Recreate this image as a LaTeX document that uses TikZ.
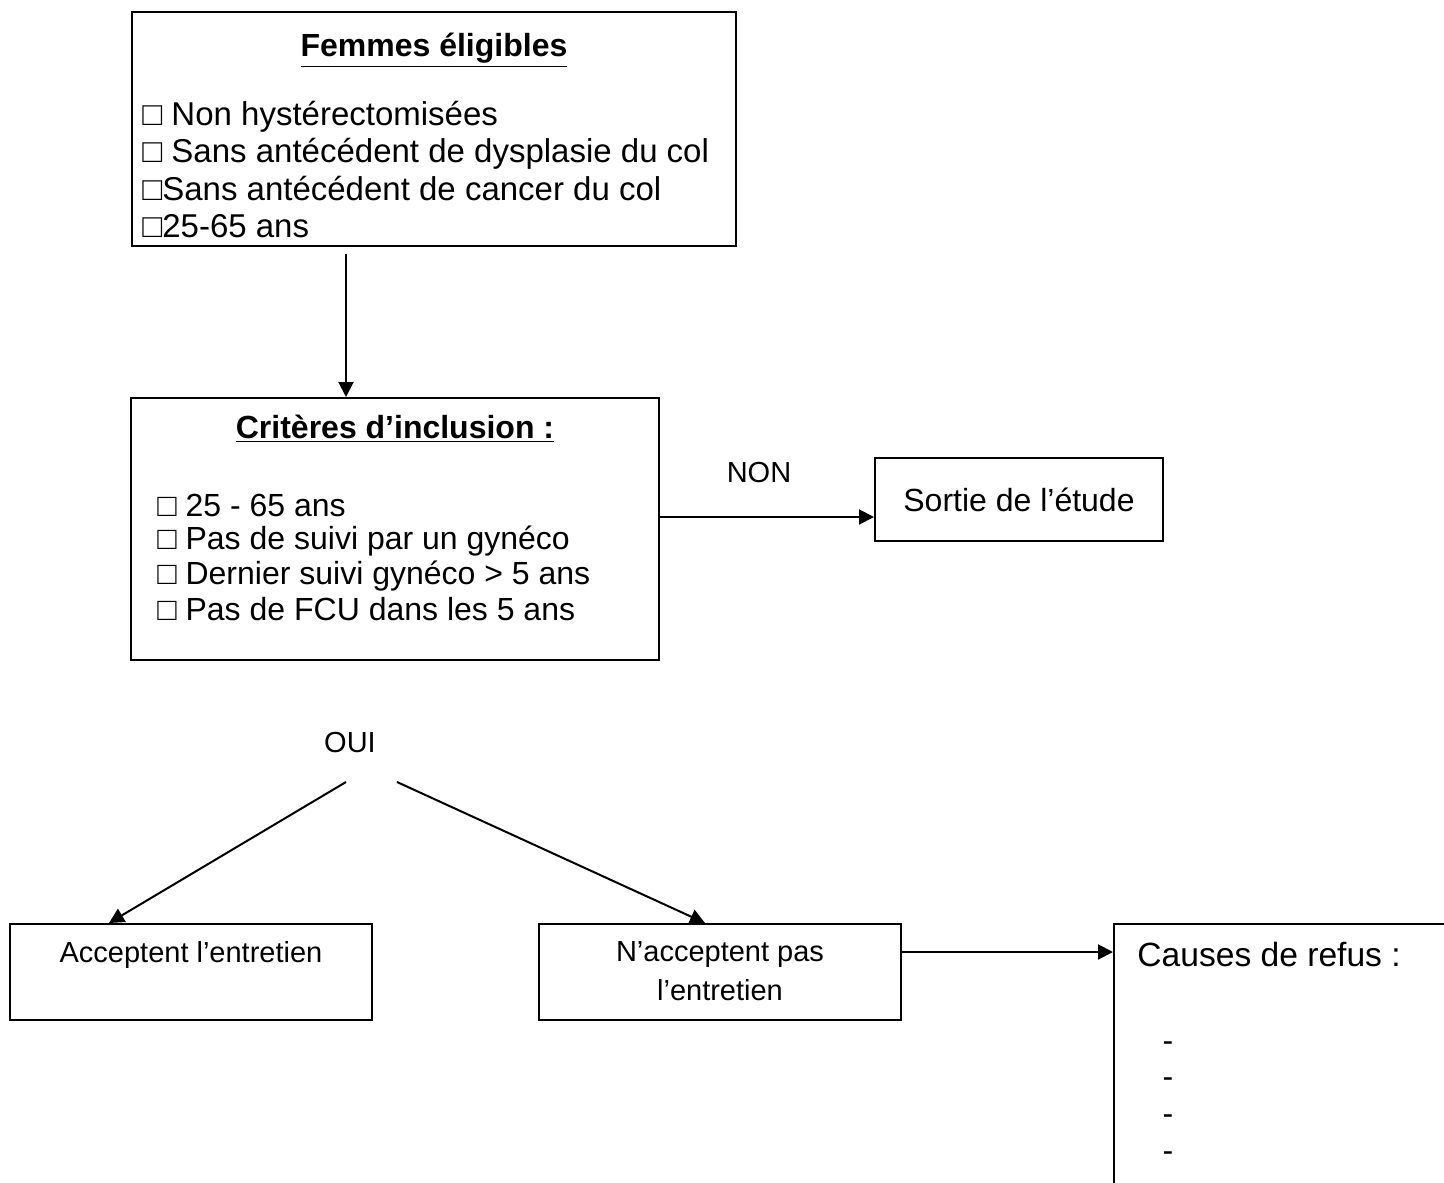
\documentclass[tikz,border=0pt]{standalone}
\usepackage{fontspec}
\setmainfont{Liberation Sans}
\usetikzlibrary{arrows.meta,fit}
\begin{document}
\begin{tikzpicture}[x=0.5pt,y=-0.5pt,
  box/.style={draw, line width=1pt, inner sep=0pt},
  big/.style={font=\fontsize{16}{19}\selectfont, inner sep=0pt},
  bigger/.style={font=\fontsize{16.5}{19}\selectfont, inner sep=0pt},
  small/.style={font=\fontsize{14.5}{17}\selectfont, inner sep=0pt},
  arr/.style={line width=1pt, -{Triangle[length=7.5pt,width=7.5pt]}}]
\useasboundingbox (0,0) rectangle (1444,1182);
\clip (0,0) rectangle (1444,1182);
% boxes
\node[box, fit={(132,12)(736,246)}] (b1) {};
\node[box, fit={(131,398)(659,660)}] (b2) {};
\node[box, fit={(875,458)(1163,541)}] (b3) {};
\node[box, fit={(10,924)(372,1020)}] (b4) {};
\node[box, fit={(539,924)(901,1020)}] (b5) {};
\node[box, fit={(1114,924)(1470,1210)}] (b6) {};
% box 1 text
\node[big, anchor=base] (t1) at (434,57) {\textbf{\underline{Femmes éligibles}}};
\node[bigger, anchor=base west] (i11) at (142,126) {□ Non hystérectomisées};
\node[bigger, anchor=base west] (i12) at (142,163) {□ Sans antécédent de dysplasie du col};
\node[bigger, anchor=base west] (i13) at (142,201) {□Sans antécédent de cancer du col};
\node[bigger, anchor=base west] (i14) at (142,237) {□25-65 ans};
% box 2 text
\node[big, anchor=base] (t2) at (395,438) {\textbf{\underline{Critères d’inclusion :}}};
\node[big, anchor=base west] (i21) at (157,516) {□ 25 - 65 ans};
\node[big, anchor=base west] (i22) at (157,549) {□ Pas de suivi par un gynéco};
\node[big, anchor=base west] (i23) at (157,584) {□ Dernier suivi gynéco > 5 ans};
\node[big, anchor=base west] (i24) at (157,620) {□ Pas de FCU dans les 5 ans};
% box 3
\node[big] (t3) at (b3.center) {Sortie de l’étude};
% box 4 and 5
\node[small] (t4) at (191,955) {Acceptent l’entretien};
\node[small] (t5a) at (720,955) {N’acceptent pas};
\node[small] (t5b) at (720,990) {l’entretien};
% box 6
\node[font=\fontsize{16.8}{20}\selectfont, inner sep=0pt, anchor=west] (t6) at (1137,954) {Causes de refus :};
\node[big] (d1) at (1168,1047) {-};
\node[big] (d2) at (1168,1083) {-};
\node[big] (d3) at (1168,1120) {-};
\node[big] (d4) at (1168,1157) {-};
% labels
\node[small] (non) at (759,473) {NON};
\node[small] (oui) at (350,743) {OUI};
% connectors
\coordinate (a1s) at (346,254);
\draw[arr] (a1s) -- (a1s |- b2.north);
\coordinate (ynon) at (0,517);
\draw[arr] (b2.east |- ynon) -- (b3.west |- ynon);
\coordinate (o1) at (346,782);
\coordinate (o2) at (397,782);
\draw[arr] (o1) -- ([xshift=50pt]b4.north west);
\draw[arr] (o2) -- ([xshift=83.5pt]b5.north west);
\coordinate (yref) at (0,952);
\draw[arr] (b5.east |- yref) -- (b6.west |- yref);
\end{tikzpicture}
\end{document}
